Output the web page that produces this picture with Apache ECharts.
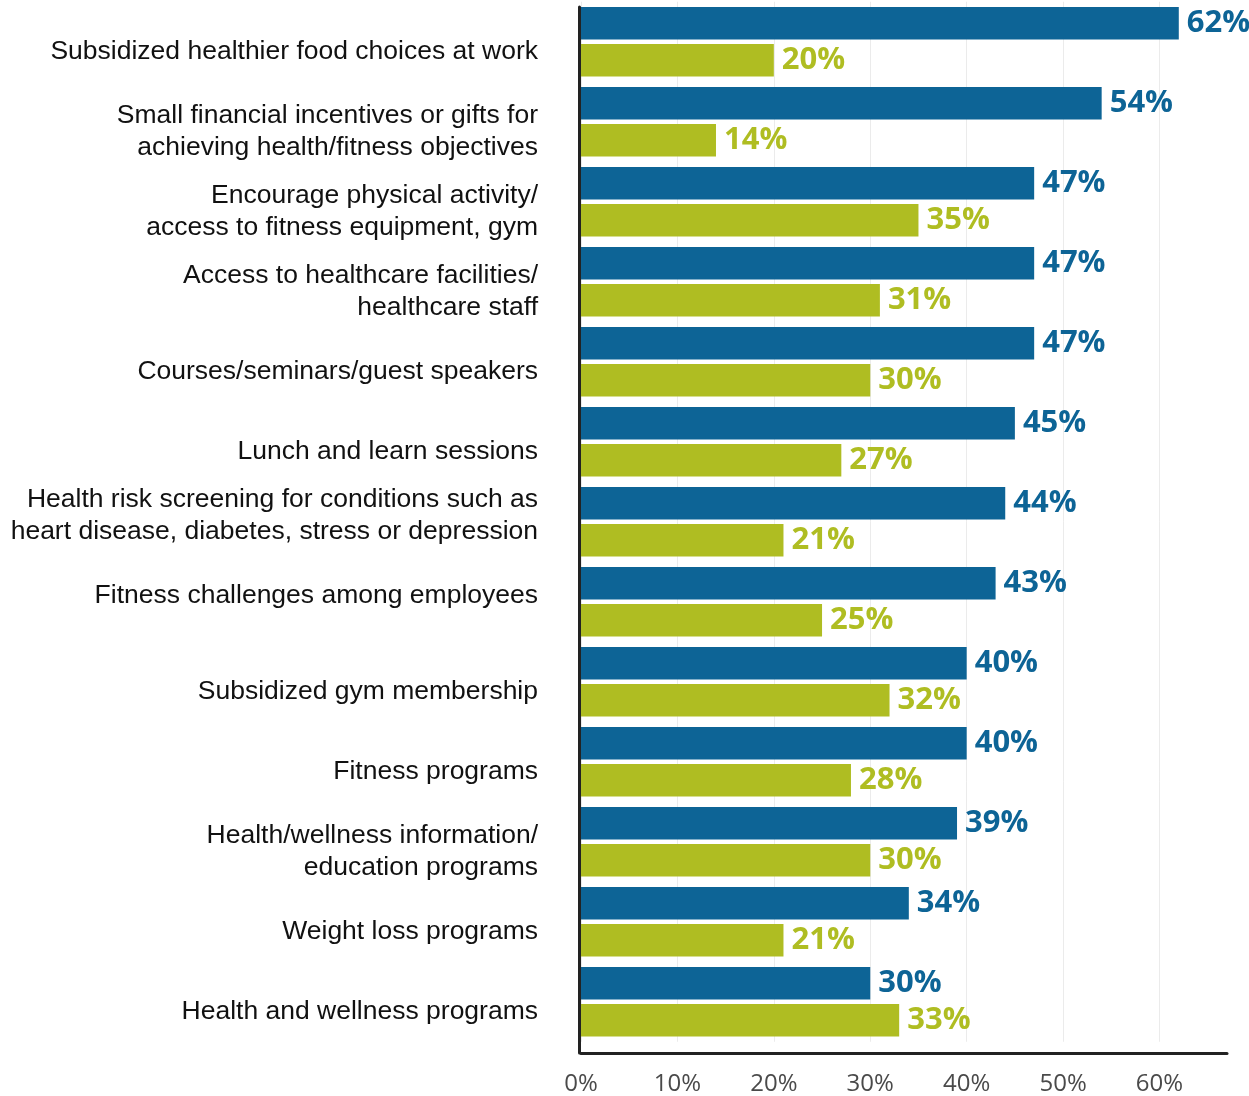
<!DOCTYPE html>
<html>
<head>
<meta charset="utf-8">
<script src="https://cdn.jsdelivr.net/npm/echarts@6/dist/echarts.min.js"></script>
<style>
  html, body { margin: 0; padding: 0; background: #ffffff; }
  #chart { width: 1249px; height: 1096px; }
</style>
</head>
<body>
<div id="chart"></div>
<script>
// Workplace wellness initiatives: two survey groups, share of respondents (%)
const categories = [
  'Subsidized healthier food choices at work',
  'Small financial incentives or gifts for\nachieving health/fitness objectives',
  'Encourage physical activity/\naccess to fitness equipment, gym',
  'Access to healthcare facilities/\nhealthcare staff',
  'Courses/seminars/guest speakers',
  'Lunch and learn sessions',
  'Health risk screening for conditions such as\nheart disease, diabetes, stress or depression',
  'Fitness challenges among employees',
  'Subsidized gym membership',
  'Fitness programs',
  'Health/wellness information/\neducation programs',
  'Weight loss programs',
  'Health and wellness programs'
];
const blueValues  = [62, 54, 47, 47, 47, 45, 44, 43, 40, 40, 39, 34, 30];
const greenValues = [20, 14, 35, 31, 30, 27, 21, 25, 32, 28, 30, 21, 33];
const tickValues  = [0, 10, 20, 30, 40, 50, 60];

const BLUE = '#0d6496';
const GREEN = '#afbd22';

// labels that sit above their bar group rather than below its centre
const raisedLabels = [6, 7];

const chart = echarts.init(document.getElementById('chart'), null, { renderer: 'canvas' });

const valueLabel = (color) => ({
  show: true,
  position: 'right',
  distance: 8,
  formatter: '{c}%',
  color: color,
  fontFamily: 'Open Sans',
  fontWeight: 'bold',
  fontSize: 31
});

const catFont = {
  color: '#111111',
  fontFamily: 'Liberation Sans',
  fontSize: 26.5,
  lineHeight: 32
};

// rich-text wrapper: a short spacer line above pushes normal labels a little
// below the group centre; a spacer below lifts the raised ones
function categoryLabel(value, index) {
  const lines = value.split('\n').map((l) => '{n|' + l + '}');
  if (raisedLabels.indexOf(index) >= 0) {
    lines.push('{u| }');
  } else {
    lines.unshift('{d| }');
  }
  return lines.join('\n');
}

chart.setOption({
  animation: false,
  backgroundColor: '#ffffff',
  grid: [
    { left: 581, top: 1.75, width: 646, height: 1040, containLabel: false },
    { left: 579.5, top: 7, width: 10, height: 1046, containLabel: false }
  ],
  xAxis: [
    {
      type: 'value',
      gridIndex: 0,
      min: 0,
      max: 67,
      interval: 10,
      offset: 11.25,
      axisLine: { show: true, lineStyle: { color: '#222222', width: 3 } },
      axisTick: { show: false },
      splitLine: {
        show: true,
        lineStyle: {
          color: ['#ebebeb', '#ebebeb', '#ebebeb', '#ebebeb', '#ebebeb', '#ebebeb', '#ebebeb', 'rgba(0,0,0,0)'],
          width: 1
        }
      },
      axisLabel: {
        margin: 19,
        color: '#4a4a4a',
        fontFamily: 'Open Sans',
        fontSize: 24,
        showMaxLabel: false,
        formatter: (v) => (tickValues.indexOf(v) >= 0 ? v + '%' : '')
      }
    },
    { type: 'value', gridIndex: 1, show: false, min: 0, max: 1 }
  ],
  yAxis: [
    {
      type: 'category',
      gridIndex: 0,
      inverse: true,
      data: categories,
      axisLine: { show: false },
      axisTick: { show: false },
      splitLine: { show: false },
      axisLabel: Object.assign({
        margin: 43,
        align: 'right',
        formatter: categoryLabel,
        rich: {
          n: Object.assign({}, catFont),
          d: Object.assign({}, catFont, { fontSize: 10, lineHeight: 19 }),
          u: Object.assign({}, catFont, { fontSize: 10, lineHeight: 13 })
        }
      }, catFont)
    },
    {
      type: 'value',
      gridIndex: 1,
      min: 0,
      max: 1,
      axisLine: { show: true, lineStyle: { color: '#222222', width: 3 } },
      axisTick: { show: false },
      axisLabel: { show: false },
      splitLine: { show: false }
    }
  ],
  series: [
    {
      name: 'Group A',
      type: 'bar',
      xAxisIndex: 0,
      yAxisIndex: 0,
      data: blueValues,
      barWidth: 32.5,
      barGap: '14%',
      itemStyle: { color: BLUE },
      label: valueLabel(BLUE)
    },
    {
      name: 'Group B',
      type: 'bar',
      xAxisIndex: 0,
      yAxisIndex: 0,
      data: greenValues,
      barWidth: 32.5,
      barGap: '14%',
      itemStyle: { color: GREEN },
      label: valueLabel(GREEN)
    }
  ]
});
</script>
</body>
</html>
